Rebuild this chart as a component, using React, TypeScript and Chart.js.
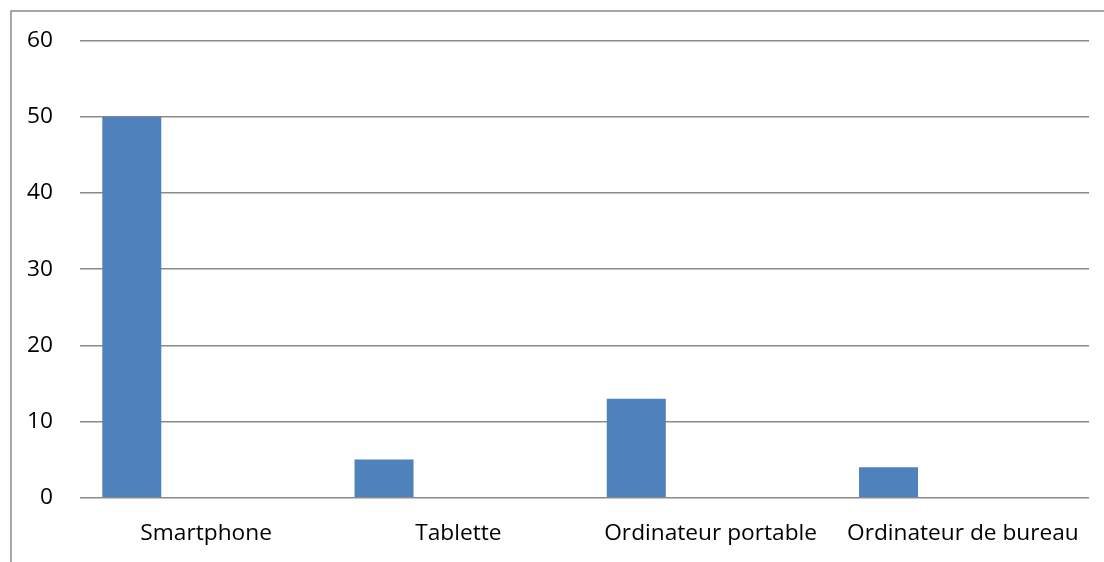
import React, { useEffect, useRef } from "react";
import { Chart, registerables } from "chart.js";

Chart.register(...registerables);

const categories = ["Smartphone", "Tablette", "Ordinateur portable", "Ordinateur de bureau"];
const series1 = [50, 5, 13, 4];
const series2: (number | null)[] = [null, null, null, null];
const series3: (number | null)[] = [null, null, null, null];
const yMin = 0;
const yMax = 60;
const yStep = 10;

const FONT = "'Open Sans', 'DejaVu Sans', sans-serif";

const framePlugin = {
  id: "frame",
  beforeDraw(chart: any) {
    const ctx = chart.ctx;
    ctx.save();
    ctx.strokeStyle = "#8a8a8a";
    ctx.lineWidth = 1.5;
    ctx.beginPath();
    ctx.moveTo(11, chart.height);
    ctx.lineTo(11, 11);
    ctx.lineTo(chart.width, 11);
    ctx.stroke();
    ctx.restore();
  },
};

export default function App() {
  const ref = useRef<HTMLCanvasElement | null>(null);

  useEffect(() => {
    if (!ref.current) return;
    const chart = new Chart(ref.current, {
      type: "bar",
      data: {
        labels: categories,
        datasets: [
          { label: "Série1", data: series1, backgroundColor: "#4F81BD", borderWidth: 0 },
          { label: "Série2", data: series2, backgroundColor: "#C0504D", borderWidth: 0 },
          { label: "Série3", data: series3, backgroundColor: "#9BBB59", borderWidth: 0 },
        ],
      },
      options: {
        animation: false,
        responsive: true,
        maintainAspectRatio: false,
        datasets: { bar: { categoryPercentage: 0.884, barPercentage: 0.794 } },
        layout: { padding: { top: 40, right: 15, left: 0, bottom: 0 } },
        plugins: {
          legend: { display: false },
          tooltip: { enabled: false },
        },
        scales: {
          x: {
            grid: { display: false, drawTicks: false },
            border: { display: false },
            ticks: {
              color: "#000",
              font: { family: FONT, size: 22.7 },
              padding: 22,
              maxRotation: 0,
              autoSkip: false,
            },
            afterFit(scale: any) {
              scale.height = 64.3;
            },
          },
          y: {
            min: yMin,
            max: yMax,
            grid: { color: "#8a8a8a", lineWidth: 1.5, drawTicks: false },
            border: { display: false },
            ticks: {
              stepSize: yStep,
              color: "#000",
              font: { family: FONT, size: 22.7 },
              padding: 27,
            },
            afterFit(scale: any) {
              scale.width = 80;
            },
          },
        },
      },
      plugins: [framePlugin],
    });
    return () => chart.destroy();
  }, []);

  return (
    <div style={{ position: "fixed", left: 0, top: 0, width: 1104, height: 562, background: "#fff" }}>
      <canvas ref={ref} />
    </div>
  );
}
